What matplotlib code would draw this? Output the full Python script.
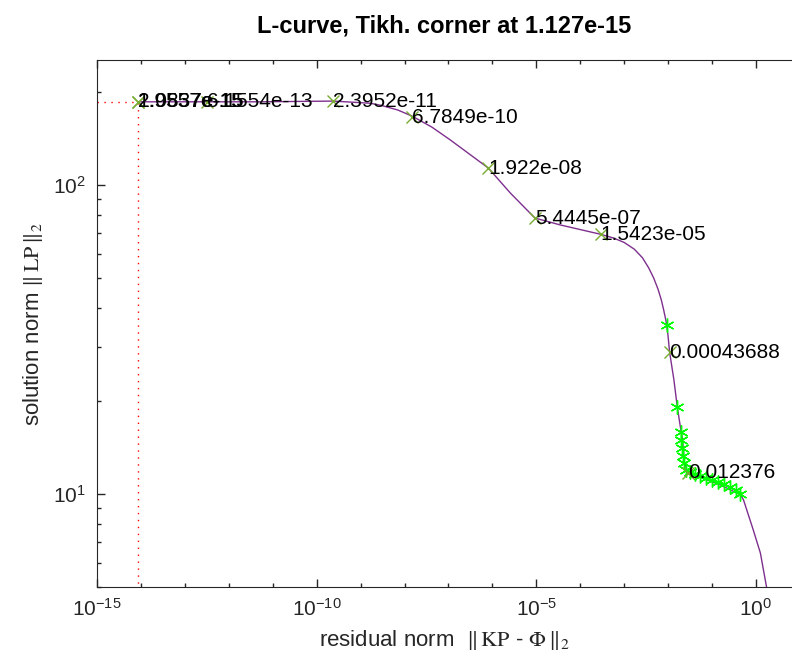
import numpy as np
import matplotlib
matplotlib.use("Agg")
import matplotlib.pyplot as plt
from matplotlib import ticker

plt.rcParams['font.family'] = ['Liberation Sans', 'DejaVu Sans']
plt.rcParams['mathtext.fontset'] = 'stix'

# L-curve (residual norm, solution norm)
residual = [8.5e-15, 1.0e-13, 3.2e-13, 5.0e-12, 2.4e-10, 1.66e-9, 3.0e-9, 7.0e-9,
            1.51e-8, 4.2e-8, 1.10e-7, 8.1e-7, 2.57e-6, 9.3e-6, 3.5e-5, 2.9e-4,
            5.7e-4, 1.0e-3, 1.7e-3, 2.6e-3, 3.6e-3, 4.7e-3, 5.9e-3, 7.0e-3,
            7.9e-3, 9.0e-3, 9.9e-3, 0.0108, 0.0135, 0.0162, 0.0190, 0.0214,
            0.0234, 0.026, 0.0288, 0.055, 0.155, 0.447, 0.52, 0.87, 1.26, 1.74, 2.0]
solution = [186, 186, 186, 186, 187, 184, 181, 175,
            167, 154, 140, 113.5, 94.2, 78.2, 74.3, 69.3,
            67.4, 65.2, 62.0, 58.2, 54.0, 50.0, 46.0, 42.5,
            39.5, 36.2, 32.8, 28.8, 23.5, 19.1, 16.5, 14.96,
            12.7, 12.1, 11.7, 11.3, 10.7, 9.93, 9.57, 7.64, 6.44, 5.0, 4.5]

# labelled regularisation parameters
lab_res = [8.5e-15, 8.5e-15, 3.2e-13, 2.4e-10, 1.51e-8, 8.1e-7, 9.3e-6, 2.9e-4, 0.0108, 0.0288]
lab_sol = [186, 186, 186, 187, 166, 113.5, 78.2, 69.3, 28.8, 11.7]
lab_txt = ['1.9557e-15', '2.0837e-15', '6.1554e-13', '2.3952e-11', '6.7849e-10',
           '1.922e-08', '5.4445e-07', '1.5423e-05', '0.00043688', '0.012376']

# corner candidates (green asterisks)
star_res = [0.00964, 0.0163, 0.0201, 0.0201, 0.0212, 0.0223, 0.0235, 0.0261,
            0.0322, 0.0419, 0.0545, 0.0745, 0.102, 0.140, 0.191, 0.262, 0.360, 0.444]
star_sol = [35.2, 19.1, 15.9, 15.0, 14.1, 13.3, 12.6, 12.0,
            11.8, 11.6, 11.4, 11.3, 11.1, 10.9, 10.8, 10.5, 10.3, 10.0]

corner_res = 8.5e-15
corner_sol = 186
title = 'L-curve, Tikh. corner at 1.127e-15'

xmin, xmax = 1e-15, 10 ** 0.82
ymin, ymax = 5.0, 254

fig = plt.figure(figsize=(7.92, 6.67), dpi=100)
ax = fig.add_axes([97 / 792, 80 / 667, 695 / 792, 527 / 667])

ax.plot([xmin, corner_res, corner_res], [corner_sol, corner_sol, ymin],
        color='red', lw=1, linestyle=(0, (1, 4)))
ax.plot(residual, solution, '-', color='#7e2f8e', lw=1)
ax.plot(star_res, star_sol, linestyle='none', marker=(6, 2, 0), ms=10,
        mec='#00ff00', mew=1)
ax.plot(lab_res, lab_sol, linestyle='none', marker='x', ms=8,
        mec='#77ac30', mew=1)
for xr, ys, t in zip(lab_res, lab_sol, lab_txt):
    ax.text(xr, ys, t, fontsize=15, ha='left', va='center', color='black')

ax.set_xscale('log')
ax.set_yscale('log')
ax.set_xlim(xmin, xmax)
ax.set_ylim(ymin, ymax)

ax.xaxis.set_major_locator(ticker.FixedLocator([1e-15, 1e-10, 1e-5, 1e0]))
ax.xaxis.set_minor_locator(ticker.FixedLocator([10.0 ** k for k in range(-15, 2)]))
ax.xaxis.set_minor_formatter(ticker.NullFormatter())
ax.yaxis.set_major_locator(ticker.FixedLocator([1e1, 1e2]))
ax.yaxis.set_minor_locator(ticker.LogLocator(base=10, subs=np.arange(2, 10)))
ax.yaxis.set_minor_formatter(ticker.NullFormatter())

ax.tick_params(which='both', direction='in', top=True, right=False,
               labelsize=15, colors='#262626', width=1)
ax.tick_params(which='major', length=6, pad=8)
ax.tick_params(which='minor', length=3)
ax.spines['right'].set_visible(False)
for s in ['left', 'bottom', 'top']:
    ax.spines[s].set_color('#262626')

ax.set_title(title, fontsize=17, fontweight='bold', pad=20)
ax.set_xlabel(r'residual norm  $\Vert\,\mathrm{KP}$ - $\Phi\,\Vert_2$',
              fontsize=16, color='#262626', labelpad=6)
ax.set_ylabel(r'solution norm $\Vert\,\mathrm{LP}\,\Vert_2$',
              fontsize=16, color='#262626', labelpad=6)

fig.savefig('out.png', dpi=100)
